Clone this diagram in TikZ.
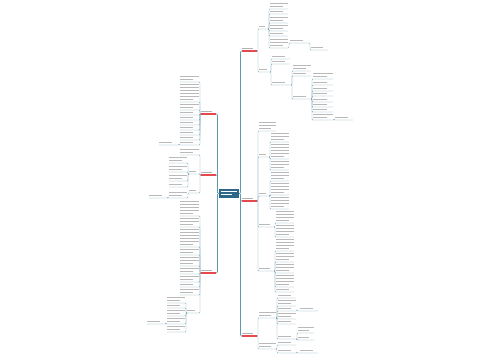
\documentclass[tikz,border=0pt]{standalone}
\usetikzlibrary{calc}
\definecolor{conc}{HTML}{7FA9BA}
\definecolor{mainc}{HTML}{5F98B2}
\definecolor{redc}{HTML}{E5484D}
\definecolor{rootc}{HTML}{2C6688}
\colorlet{txt}{gray!55}
\colorlet{redtxt}{gray!60}
\newcount\tlc
\newcommand\tlines[3][txt]{\vbox{\offinterlineskip\tlc=0
 \loop\ifnum\tlc<#3\relax \advance\tlc by 1
   \ifnum\tlc=#3\relax \hbox to #2pt{\color{#1}\rule{\dimexpr#2pt*7/10\relax}{1pt}\hfil}\else \hbox to #2pt{\color{#1}\rule{#2pt}{1pt}}\fi
   \vskip2pt
 \repeat}}
\newcommand\nodeR[6][txt]{\node[blk,anchor=north west] (#2) at (#3,#4) {\tlines[#1]{#5}{#6}};}
\newcommand\nodeL[6][txt]{\node[blk,anchor=north east] (#2) at (#3,#4) {\tlines[#1]{#5}{#6}};}
\newcommand\cR[2]{\draw[con] (#1.south east) -- ++(1,0) |- (#2.south west) -- (#2.south east);}
\newcommand\cL[2]{\draw[con] (#1.south west) -- ++(-1,0) |- (#2.south east) -- (#2.south west);}
\tikzset{
 blk/.style={inner sep=0pt, outer sep=0pt},
 con/.style={draw=conc, line width=0.4pt, rounded corners=0.8pt},
 maincon/.style={draw=mainc, line width=0.55pt, rounded corners=1pt},
 redline/.style={draw=redc, line width=1.3pt},
 rootbox/.style={fill=rootc, inner xsep=2pt, inner ysep=1.5pt, outer sep=0pt}
}
\begin{document}
\begin{tikzpicture}[x=1pt,y=-1pt]
\useasboundingbox (0,0) rectangle (500,360);
\fill[white] (0,0) rectangle (500,360);
% root
\node[rootbox] (root) at (229,193.5) {\tlines[white]{16}{2}};
% ---------- LEFT ----------
\nodeL[redtxt]{la}{216}{111}{15}{1}
\nodeL{la1}{199}{76}{19}{2}
\nodeL{la2}{199}{84}{19}{6}
\nodeL{la3}{199}{104}{19}{2}
\nodeL{la4}{199}{112}{19}{1}
\nodeL{la5}{199}{117}{19}{1}
\nodeL{la6}{199}{122}{19}{1}
\nodeL{la7}{199}{127}{19}{1}
\nodeL{la8}{199}{132}{19}{1}
\nodeL{la9}{199}{137}{19}{1}
\nodeL{la10}{199}{142}{19}{1}
\nodeL{la10a}{178}{142}{19}{1}
\foreach \c in {la1,la2,la3,la4,la5,la6,la7,la8,la9,la10} {\cL{la}{\c}}
\cL{la10}{la10a}

\nodeL[redtxt]{lb}{216}{172}{15}{1}
\nodeL{lb1}{199}{149}{19}{2}
\nodeL{lb2}{199}{171}{10}{1}
\nodeL{lb2a}{187}{157}{18}{2}
\nodeL{lb2b}{187}{166}{18}{2}
\nodeL{lb2c}{187}{175}{18}{2}
\nodeL{lb2d}{187}{184}{18}{1}
\nodeL{lb3}{199}{190}{10}{1}
\nodeL{lb3a}{187}{192}{18}{2}
\nodeL{lb3a1}{167}{195}{18}{1}
\foreach \c in {lb1,lb2,lb3} {\cL{lb}{\c}}
\foreach \c in {lb2a,lb2b,lb2c,lb2d} {\cL{lb2}{\c}}
\cL{lb3}{lb3a}
\cL{lb3a}{lb3a1}

\nodeL[redtxt]{lc}{216}{270}{15}{1}
\nodeL{lc1}{199}{201}{19}{5}
\nodeL{lc2}{199}{218}{19}{3}
\nodeL{lc3}{199}{229}{19}{6}
\nodeL{lc4}{199}{249}{19}{2}
\nodeL{lc5}{199}{257}{19}{3}
\nodeL{lc6}{199}{268}{19}{2}
\nodeL{lc7}{199}{276}{19}{2}
\nodeL{lc8}{199}{284}{19}{1}
\nodeL{lc9}{199}{289}{19}{2}
\nodeL{lc10}{199}{310}{12}{1}
\nodeL{lc10a}{185}{297}{18}{2}
\nodeL{lc10b}{185}{305}{18}{1}
\nodeL{lc10c}{185}{310}{18}{2}
\nodeL{lc10d}{185}{318}{18}{2}
\nodeL{lc10d1}{165}{321}{18}{1}
\nodeL{lc10e}{185}{326}{18}{2}
\foreach \c in {lc1,lc2,lc3,lc4,lc5,lc6,lc7,lc8,lc9,lc10} {\cL{lc}{\c}}
\foreach \c in {lc10a,lc10b,lc10c,lc10d,lc10e} {\cL{lc10}{\c}}
\cL{lc10d}{lc10d1}

% ---------- RIGHT ----------
\nodeR[redtxt]{ra}{242}{48}{15}{1}
\nodeR{ra1}{259}{26}{9}{1}
\nodeR{ra1a}{270}{3}{18}{2}
\nodeR{ra1b}{270}{11}{18}{1}
\nodeR{ra1c}{270}{17}{18}{2}
\nodeR{ra1d}{270}{25}{18}{2}
\nodeR{ra1e}{270}{33}{18}{1}
\nodeR{ra1f}{270}{39}{18}{3}
\nodeR{ra1f1}{290}{40}{19}{1}
\nodeR{ra1f1a}{311}{47}{17}{1}
\nodeR{ra2}{259}{69}{11}{1}
\nodeR{ra2a}{272}{56}{18}{1}
\nodeR{ra2b}{272}{61}{18}{1}
\nodeR{ra2c}{272}{82}{19}{1}
\nodeR{ra2c1}{293}{65}{18}{2}
\nodeR{ra2c2}{293}{73}{18}{1}
\nodeR{ra2c3}{293}{96}{18}{1}
\nodeR{d1}{313}{73}{20}{2}
\nodeR{d2}{313}{82}{20}{1}
\nodeR{d3}{313}{88}{20}{1}
\nodeR{d4}{313}{93}{20}{1}
\nodeR{d5}{313}{99}{20}{1}
\nodeR{d6}{313}{104}{20}{1}
\nodeR{d7}{313}{109}{20}{1}
\nodeR{d8}{313}{114}{20}{2}
\nodeR{d8a}{335}{117}{18}{1}
\cR{ra}{ra1} \cR{ra}{ra2}
\foreach \c in {ra1a,ra1b,ra1c,ra1d,ra1e,ra1f} {\cR{ra1}{\c}}
\cR{ra1f}{ra1f1} \cR{ra1f1}{ra1f1a}
\foreach \c in {ra2a,ra2b,ra2c} {\cR{ra2}{\c}}
\foreach \c in {ra2c1,ra2c2,ra2c3} {\cR{ra2c}{\c}}
\foreach \c in {d1,d2,d3,d4,d5,d6,d7,d8} {\cR{ra2c3}{\c}}
\cR{d8}{d8a}

\nodeR[redtxt]{rb}{242}{198}{15}{1}
\nodeR{rb1}{259}{122}{17}{3}
\nodeR{rb2}{259}{154}{10}{1}
\nodeR{rb2a}{271}{133}{18}{3}
\nodeR{rb2b}{271}{144}{18}{5}
\nodeR{rb2c}{271}{161}{18}{3}
\nodeR{rb3}{259}{193}{10}{1}
\nodeR{rb3a}{271}{172}{18}{3}
\nodeR{rb3b}{271}{183}{18}{4}
\nodeR{rb3c}{271}{197}{18}{4}
\nodeR{rb4}{259}{224}{15}{1}
\nodeR{rb4a}{276}{211}{18}{4}
\nodeR{rb4b}{276}{225}{18}{4}
\nodeR{rb5}{259}{268}{15}{1}
\nodeR{rb5a}{276}{239}{18}{4}
\nodeR{rb5b}{276}{253}{18}{3}
\nodeR{rb5c}{276}{264}{18}{3}
\nodeR{rb5d}{276}{275}{18}{4}
\nodeR{rb5e}{276}{289}{18}{1}
\foreach \c in {rb1,rb2,rb3,rb4,rb5} {\cR{rb}{\c}}
\foreach \c in {rb2a,rb2b,rb2c} {\cR{rb2}{\c}}
\foreach \c in {rb3a,rb3b,rb3c} {\cR{rb3}{\c}}
\foreach \c in {rb4a,rb4b} {\cR{rb4}{\c}}
\foreach \c in {rb5a,rb5b,rb5c,rb5d,rb5e} {\cR{rb5}{\c}}

\nodeR[redtxt]{rc}{242}{333}{15}{1}
\nodeR{rc1}{259}{312}{17}{2}
\nodeR{rc1a}{278}{295}{18}{1}
\nodeR{rc1b}{278}{300}{18}{2}
\nodeR{rc1c}{278}{308}{18}{1}
\nodeR{rc1c1}{300}{308}{18}{1}
\nodeR{rc1d}{278}{313}{18}{2}
\nodeR{rc1e}{278}{321}{18}{1}
\nodeR{rc1f}{278}{336}{18}{1}
\nodeR{rc1f1}{298}{327}{16}{2}
\nodeR{rc1f2}{298}{337}{16}{1}
\nodeR{rc2}{259}{343}{17}{2}
\nodeR{rc2a}{278}{342}{18}{1}
\nodeR{rc2b}{278}{350}{18}{1}
\nodeR{rc2b1}{300}{350}{18}{1}
\cR{rc}{rc1} \cR{rc}{rc2}
\foreach \c in {rc1a,rc1b,rc1c,rc1d,rc1e,rc1f} {\cR{rc1}{\c}}
\cR{rc1c}{rc1c1}
\foreach \c in {rc1f1,rc1f2} {\cR{rc1f}{\c}}
\foreach \c in {rc2a,rc2b} {\cR{rc2}{\c}}
\cR{rc2b}{rc2b1}

% ---------- main connectors ----------
\foreach \c in {ra,rb,rc} {\draw[maincon] (root.east) -- ++(1.5,0) |- (\c.south west);}
\foreach \c in {la,lb,lc} {\draw[maincon] (root.west) -- ++(-1.5,0) |- (\c.south east);}
\foreach \c in {ra,rb,rc,la,lb,lc} {\draw[redline] (\c.south west) -- (\c.south east);}
\end{tikzpicture}
\end{document}
